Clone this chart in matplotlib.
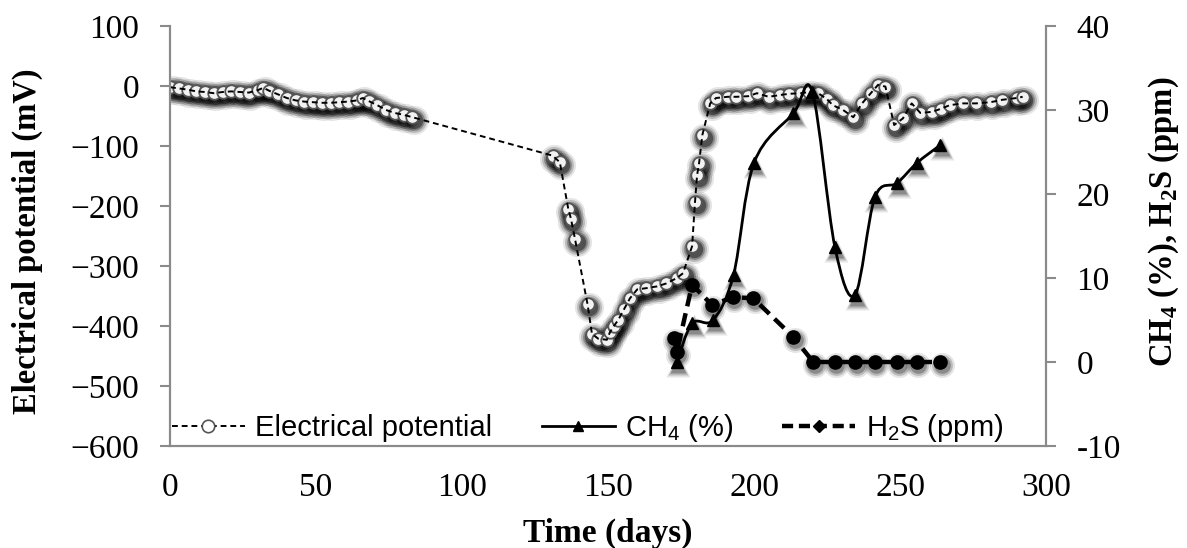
import matplotlib
matplotlib.use("Agg")
import matplotlib.pyplot as plt
from matplotlib.path import Path
from matplotlib.patches import PathPatch
from matplotlib.lines import Line2D
from matplotlib.transforms import offset_copy
import numpy as np

# ---------------- data ----------------
ep_days = [0, 3, 6, 9, 12, 15, 18, 21, 24, 27, 30, 32, 34, 37, 40, 43, 46, 49, 52, 55,
           58, 61, 64, 66, 68, 71, 74, 77, 80, 83,
           131, 133.5, 136.4, 137.3, 138.7, 143, 144.5, 146.6, 149.6, 150.7, 152, 153.5,
           155.5, 157.5, 160, 163, 166.8, 170, 173.6, 175.7, 178.8, 179.8, 180.5, 181.2,
           182.3, 185, 187, 191, 194, 198, 201, 205, 209, 212, 216, 219, 222, 225, 227,
           230.5, 234, 237, 240, 242.5, 245, 248, 251, 254, 257, 261, 264, 267, 271.5,
           276, 281, 285, 290, 292]
ep_mv = [-2, -4, -6, -9, -10, -12, -10, -9, -10, -11, -7, -3, -8, -14, -20, -24, -26, -27,
         -28, -28, -27, -26, -24, -20, -25, -32, -40, -45, -48, -52,
         -116, -127, -205, -221, -255, -364, -413, -421, -423, -410, -400, -390,
         -372, -354, -339, -337, -334, -329, -320, -312, -267, -193, -149, -128,
         -82, -29, -20, -18, -18, -17, -12, -18, -15, -13, -12, -10, -12, -22, -32,
         -40, -52, -29, -12, 2, -1, -65, -54, -29, -45, -43, -38, -32, -29,
         -29, -27, -23, -20, -18]

ch4_days = [173.6, 178.8, 186.0, 193.0, 200.0, 213.5, 220.0, 227.7, 234.6, 241.4, 249.0, 255.8, 263.7]
ch4_vals = [0.0, 4.6, 5.0, 10.4, 23.7, 29.6, 32.1, 13.7, 8.0, 19.6, 21.3, 23.7, 25.8]

h2s_days = [172.6, 173.6, 178.8, 185.6, 192.8, 199.7, 213.4, 220.3, 227.7, 234.6, 241.4, 249.0, 255.8, 263.7]
h2s_vals = [2.9, 1.2, 9.2, 6.8, 7.7, 7.6, 3.0, 0.0, 0.0, 0.0, 0.0, 0.0, 0.0, 0.0]

x_ticks = [0, 50, 100, 150, 200, 250, 300]
left_ticks = [100, 0, -100, -200, -300, -400, -500, -600]
right_ticks = [40, 30, 20, 10, 0, -10]

legend_labels = ["Electrical potential", "CH$_\\mathregular{4}$ (%)", "H$_\\mathregular{2}$S (ppm)"]
x_label = "Time (days)"
left_label = "Electrical potential (mV)"
right_label = "CH$_\\mathregular{4}$ (%), H$_\\mathregular{2}$S (ppm)"

# ---------------- figure ----------------
SERIF = "Liberation Serif"
SANS = "Liberation Sans"
GRAY = "#8a8a8a"

fig = plt.figure(figsize=(11.87, 5.48), dpi=100)
W, H = 1187, 548
ax = fig.add_axes([170 / W, 1 - 446 / H, 876 / W, 420 / H])
ax2 = ax.twinx()

ax.set_xlim(0, 300)
ax.set_ylim(-600, 100)
ax2.set_ylim(-10, 40)

for a in (ax, ax2):
    a.spines["top"].set_visible(False)
    for s in ("left", "right", "bottom"):
        a.spines[s].set_color(GRAY)
        a.spines[s].set_linewidth(1.5)
    a.patch.set_visible(False)

ax.set_xticks(x_ticks)
ax.set_xticklabels([str(v) for v in x_ticks], fontfamily=SERIF, fontsize=24)
ax.tick_params(axis="x", length=0, pad=19)
ax.set_yticks(left_ticks)
ax.set_yticklabels([str(v).replace("-", "\u2212") for v in left_ticks], fontfamily=SERIF, fontsize=24)
ax.tick_params(axis="y", length=7, width=1.5, color=GRAY, pad=15)
ax2.set_yticks(right_ticks)
ax2.set_yticklabels([str(v) for v in right_ticks], fontfamily=SERIF, fontsize=24)
ax2.tick_params(axis="y", length=7, width=1.5, color=GRAY, pad=15)

ax.set_xlabel(x_label, fontfamily=SERIF, fontsize=24, fontweight="bold")
ax.xaxis.set_label_coords(0.5, -0.207)
ax.xaxis.label.set_va("center")
ax.set_ylabel(left_label, fontfamily=SERIF, fontsize=23.5, fontweight="bold")
ax.yaxis.set_label_coords(-0.163, 0.488)
ax.yaxis.label.set_va("center")
ax2.set_ylabel(right_label, fontfamily=SERIF, fontsize=23.5, fontweight="bold")
ax2.yaxis.set_label_coords(1.134, 0.533)
ax2.yaxis.label.set_va("center")
ax2.yaxis.label.set_rotation(90)

# ---------------- shadows ----------------
def shadow(axis, x, y, marker, sizes):
    tr = offset_copy(axis.transData, fig=fig, x=1.5, y=-3, units="dots")
    for ms, al in sizes:
        axis.plot(x, y, ls="none", marker=marker, ms=ms, mfc="black", mec="none",
                  alpha=al, transform=tr, zorder=1)

# Electrical potential
shadow(ax, ep_days, ep_mv, "o", [(21, 0.10), (18, 0.18), (15, 0.28), (12.5, 0.4)])
ax.plot(ep_days, ep_mv, ls="none", marker="o", ms=9, mfc="#f2f2f2", mec="#555555",
        mew=1.3, zorder=2)
ax.plot(ep_days, ep_mv, ls=(0, (3, 2)), color="black", lw=1.4, zorder=3)

# CH4 smooth curve (Catmull-Rom -> Bezier, through the data points)
def smooth_patch(x, y, **kw):
    P = np.column_stack([x, y]).astype(float)
    n = len(P)
    verts = [tuple(P[0])]
    codes = [Path.MOVETO]
    for i in range(n - 1):
        p0 = P[i - 1] if i > 0 else P[i]
        p1 = P[i]
        p2 = P[i + 1]
        p3 = P[i + 2] if i + 2 < n else P[i + 1]
        c1 = p1 + (p2 - p0) / 6.0
        c2 = p2 - (p3 - p1) / 6.0
        verts += [tuple(c1), tuple(c2), tuple(p2)]
        codes += [Path.CURVE4] * 3
    return PathPatch(Path(verts, codes), fill=False, **kw)

shadow(ax2, ch4_days, ch4_vals, "^", [(17, 0.10), (14, 0.18), (11, 0.26)])
shadow(ax2, h2s_days, h2s_vals, "o", [(18, 0.10), (15, 0.18), (12, 0.26)])

ax2.add_patch(smooth_patch(ch4_days, ch4_vals, edgecolor="black", lw=2.0, zorder=3))
ax2.plot(ch4_days, ch4_vals, ls="none", marker="^", ms=9, color="black", zorder=4)

ax2.plot(h2s_days, h2s_vals, ls=(0, (3, 1.6)), lw=3.2, color="black", marker="o",
         ms=9.5, zorder=4)

# ---------------- legend ----------------
handles = [
    Line2D([], [], ls=(0, (3, 2)), lw=1.4, color="black", marker="o", ms=9, mfc="white",
           mec="#555555", mew=1.2),
    Line2D([], [], ls="-", lw=2.0, color="black", marker="^", ms=7),
    Line2D([], [], ls=(0, (2.5, 1.3)), lw=3.2, color="black", marker="D", ms=6),
]
leg = ax2.legend(handles, legend_labels, loc="center left", bbox_to_anchor=(0.002, 0.043),
                 ncol=3, frameon=False, borderpad=0, borderaxespad=0, handlelength=2.5,
                 handletextpad=0.35, columnspacing=1.7,
                 prop={"family": SANS, "size": 21})

fig.savefig("out.png", dpi=100)
